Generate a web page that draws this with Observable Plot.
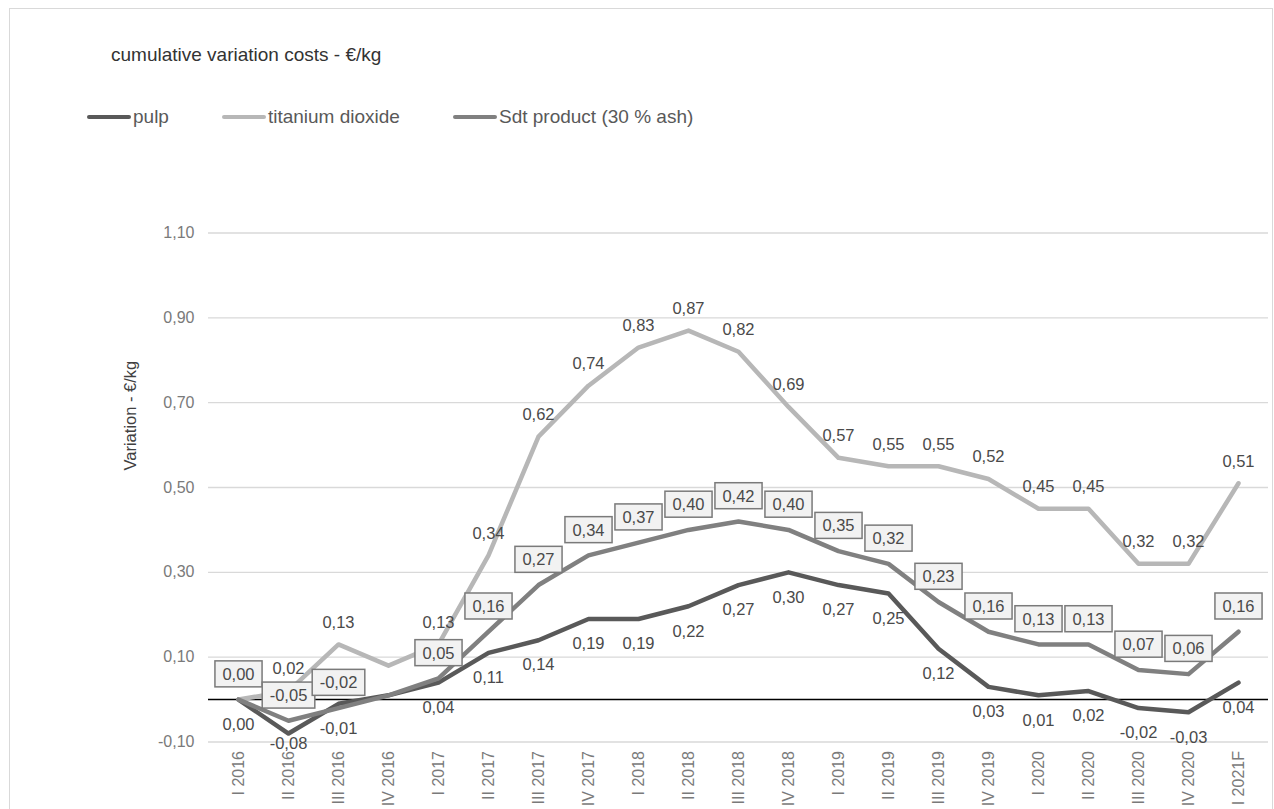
<!DOCTYPE html>
<html>
<head>
<meta charset="utf-8">
<script src="https://cdn.jsdelivr.net/npm/d3@7"></script>
<script src="https://cdn.jsdelivr.net/npm/@observablehq/plot@0.6"></script>
<style>
  html, body { margin: 0; padding: 0; background: #ffffff; }
  body { font-family: "Liberation Sans", Arial, sans-serif; width: 1274px; height: 809px; position: relative; overflow: hidden; }
  #frame { position: absolute; left: 9px; top: 8px; width: 1264px; height: 900px; border: 1px solid #d9d9d9; box-sizing: border-box; pointer-events: none; }
  #title { position: absolute; left: 111px; top: 44px; font-size: 19px; line-height: 22px; color: #333333; white-space: nowrap; }
  #legend { position: absolute; left: 87px; top: 106px; display: flex; align-items: center; gap: 53px; font-size: 19px; line-height: 22px; color: #595959; white-space: nowrap; }
  .item { display: flex; align-items: center; }
  .swatch { display: inline-block; width: 44px; height: 4px; border-radius: 2px; margin-right: 2px; }
  #chart { position: absolute; left: 0; top: 150px; }
</style>
</head>
<body>
<div id="frame"></div>
<div id="title">cumulative variation costs - €/kg</div>
<div id="legend"></div>
<div id="chart"></div>
<script>
// ---- data ----
const categories = ["I 2016","II 2016","III 2016","IV 2016","I 2017","II 2017","III 2017","IV 2017","I 2018","II 2018","III 2018","IV 2018","I 2019","II 2019","III 2019","IV 2019","I 2020","II 2020","III 2020","IV 2020","I 2021F"];
const pulp            = [0.00,-0.08,-0.01,0.01,0.04,0.11,0.14,0.19,0.19,0.22,0.27,0.30,0.27,0.25,0.12,0.03,0.01,0.02,-0.02,-0.03,0.04];
const titaniumDioxide = [0.00, 0.02, 0.13,0.08,0.13,0.34,0.62,0.74,0.83,0.87,0.82,0.69,0.57,0.55,0.55,0.52,0.45,0.45,0.32,0.32,0.51];
const sdtProduct      = [0.00,-0.05,-0.02,0.01,0.05,0.16,0.27,0.34,0.37,0.40,0.42,0.40,0.35,0.32,0.23,0.16,0.13,0.13,0.07,0.06,0.16];
const seriesNames = ["pulp", "titanium dioxide", "Sdt product (30 % ash)"];
const seriesColors = ["#595959", "#b7b7b7", "#808080"];
const yTicks = [-0.1, 0.1, 0.3, 0.5, 0.7, 0.9, 1.1];
const yTickLabels = ["-0,10", "0,10", "0,30", "0,50", "0,70", "0,90", "1,10"];
const unlabelled = {
  "pulp": ["IV 2016"],
  "titanium dioxide": ["I 2016", "IV 2016"],
  "Sdt product (30 % ash)": ["IV 2016"]
};
const yAxisTitle = "Variation - €/kg";

// ---- table ----
const seriesValues = [pulp, titaniumDioxide, sdtProduct];
const rows = seriesNames.flatMap((s, k) => categories.map((c, i) => ({series: s, category: c, value: seriesValues[k][i]})));
const locale = d3.formatLocale({decimal: ",", thousands: ".", grouping: [3], currency: ["", "€"], minus: "-"});
const fmt = locale.format(".2f");
const labelRows = s => rows.filter(d => d.series === s && !unlabelled[s].includes(d.category));

// ---- legend ----
const legend = document.getElementById("legend");
seriesNames.forEach((s, k) => {
  const it = document.createElement("div");
  it.className = "item";
  const sw = document.createElement("span");
  sw.className = "swatch";
  sw.style.background = seriesColors[k];
  const tx = document.createElement("span");
  tx.textContent = s;
  it.append(sw, tx);
  legend.append(it);
});

// ---- plot ----
const plot = Plot.plot({
  width: 1274,
  height: 659,
  marginLeft: 208,
  marginRight: 6,
  marginTop: 82.5,
  marginBottom: 67.5,
  style: {fontFamily: "'Liberation Sans', Arial, sans-serif", fontSize: "16px", background: "transparent", overflow: "visible"},
  x: {type: "point", domain: categories, padding: 0.5},
  y: {domain: [-0.1, 1.1]},
  marks: [
    Plot.gridY({ticks: yTicks, stroke: "#d9d9d9", strokeOpacity: 1, strokeWidth: 1.3}),
    Plot.axisY({ticks: yTicks, tickSize: 0, tickPadding: 14, tickFormat: d => yTickLabels[yTicks.indexOf(d)], fill: "#7a7a7a", fontSize: 16, label: null}),
    Plot.axisX({tickRotate: -90, tickSize: 0, tickPadding: 9, fill: "#7a7a7a", fontSize: 16, label: null}),
    Plot.text([yAxisTitle], {text: d => d, frameAnchor: "left", rotate: -90, dx: -78, dy: -17, fill: "#404040", fontSize: 16.5, ariaDescription: "y-title"}),
    Plot.ruleY([0], {stroke: "#000000", strokeWidth: 1.5}),
    ...seriesNames.map((s, k) => Plot.line(rows.filter(d => d.series === s), {
      x: "category", y: "value", stroke: seriesColors[k], strokeWidth: 4.5, strokeLinejoin: "round", strokeLinecap: "round"
    })),
    Plot.text(labelRows("pulp"), {x: "category", y: "value", text: d => fmt(d.value), dy: 25, fill: "#4a4a4a", fontSize: 16.5, ariaDescription: "pulp-label"}),
    Plot.text(labelRows("titanium dioxide"), {x: "category", y: "value", text: d => fmt(d.value), dy: -22, fill: "#4a4a4a", fontSize: 16.5, ariaDescription: "titanium-label"}),
    Plot.text(labelRows("Sdt product (30 % ash)"), {x: "category", y: "value", text: d => fmt(d.value), dy: -25, fill: "#4a4a4a", fontSize: 16.5, ariaDescription: "sdt-label"})
  ]
});
document.getElementById("chart").append(plot);

// find the label groups (by description, or else by mark order)
const textGroups = Array.from(plot.querySelectorAll('g[aria-label="text"]'));
const groupFor = (name, fallbackIndexFromEnd) => {
  const g = plot.querySelector(`g[aria-description="${name}"]`);
  return g || textGroups[textGroups.length - fallbackIndexFromEnd];
};
const sdtGroup = groupFor("sdt-label", 1);
const pulpGroup = groupFor("pulp-label", 3);

// boxed labels for Sdt product
const NS = "http://www.w3.org/2000/svg";
if (sdtGroup) Array.from(sdtGroup.querySelectorAll("text")).forEach(t => {
  const b = t.getBBox();
  const r = document.createElementNS(NS, "rect");
  r.setAttribute("x", b.x - 7.5);
  r.setAttribute("y", b.y - 4);
  r.setAttribute("width", b.width + 15);
  r.setAttribute("height", b.height + 8);
  r.setAttribute("fill", "#f2f2f2");
  r.setAttribute("stroke", "#7a7a7a");
  r.setAttribute("stroke-width", "1.5");
  const tr = t.getAttribute("transform");
  if (tr) r.setAttribute("transform", tr);
  t.parentNode.insertBefore(r, t);
});

// keep pulp labels inside the plot area (as the source chart does)
const svgTop = plot.getBoundingClientRect().top;
const limit = 752 - 150;
if (pulpGroup) Array.from(pulpGroup.querySelectorAll("text")).forEach(t => {
  const bb = t.getBoundingClientRect();
  const bottom = bb.bottom - svgTop;
  if (bottom > limit) {
    t.setAttribute("transform", (t.getAttribute("transform") || "") + ` translate(0,${limit - bottom})`);
  }
});
</script>
</body>
</html>
